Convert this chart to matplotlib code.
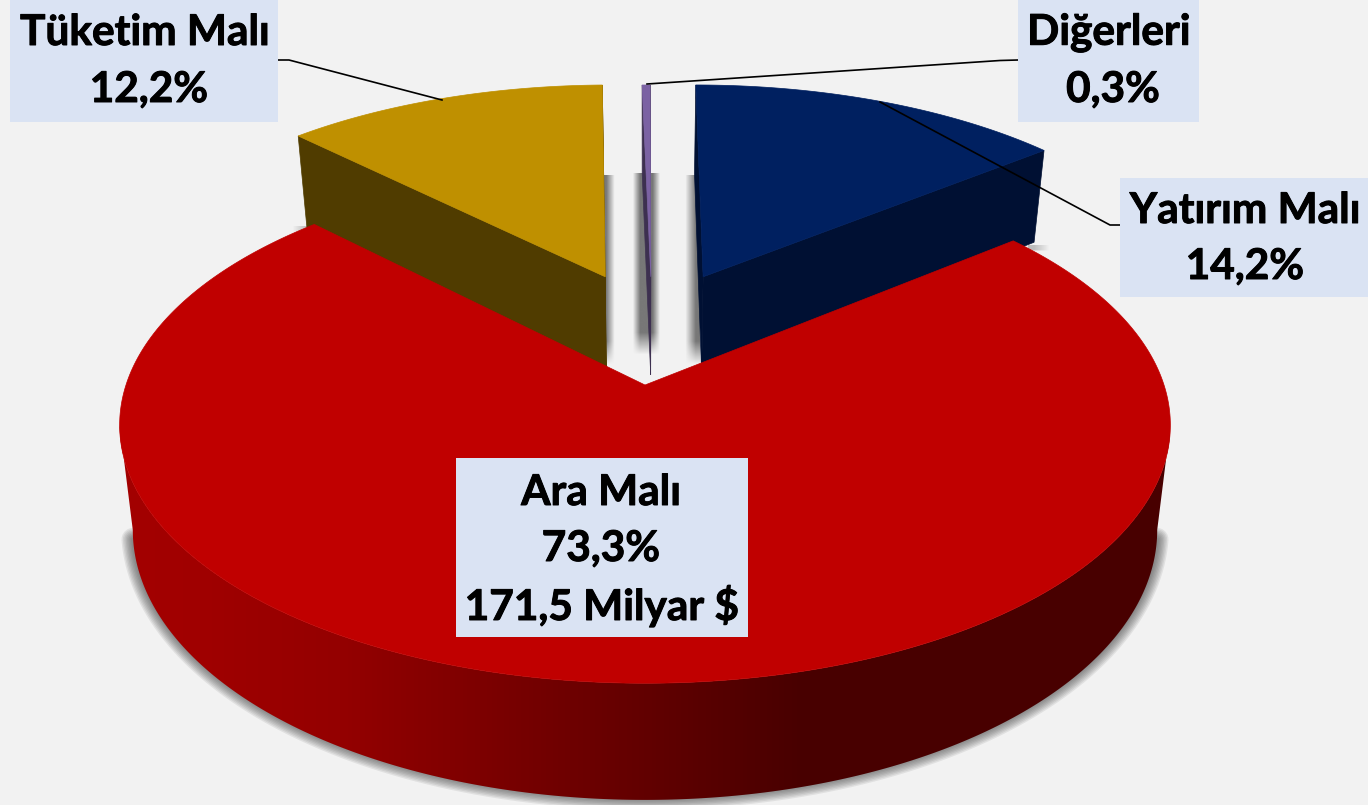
import numpy as np
import matplotlib
matplotlib.use("Agg")
import matplotlib.pyplot as plt
import matplotlib.patheffects as pe
from matplotlib.colors import LinearSegmentedColormap
from matplotlib.patches import Polygon

categories = ["Yatırım Malı", "Ara Malı", "Tüketim Malı", "Diğerleri"]
shares = [14.2, 73.3, 12.2, 0.3]
share_labels = ["14,2%", "73,3%", "12,2%", "0,3%"]
total_label = "171,5 Milyar $"

top_colors = ["#002060", "#c00000", "#bf9000", "#7b62a3"]
wall_colors = ["#001033", "#700000", "#503c00", "#3d3050"]
explode_x = [0.12, 0.0, -0.082, 0.012]
explode_y = [-0.46, 0.0, -0.46, -0.46]

BG = "#f2f2f2"
BOX = "#dae3f3"
CX, CY = 645, 385
RX, RY = 519, 252
PERSP = 0.155
BOTTOM_SHRINK = 0.975

plt.rcParams["font.family"] = ["Lato", "DejaVu Sans"]


def project(x, y):
    s = 1 / (1 - PERSP * y)
    top_x = CX + RX * x * s
    top_y = CY + RY * y * s
    bot_x = CX + (top_x - CX) * BOTTOM_SHRINK
    bot_y = top_y + 103 * s ** 0.74
    return top_x, top_y, bot_x, bot_y


def rim(start, end, ox, oy, n=240):
    t = np.radians(np.linspace(start, end, n))
    return project(ox + np.sin(t), oy - np.cos(t))


def soft_shadow(ax, x0, x1, y0, y1, fade, peak=0.8):
    # small alpha image, bilinear scaling does the blur
    across = {"right": np.r_[np.ones(4), np.linspace(1, 0, 12)],
              "left": np.r_[np.linspace(0, 1, 12), np.ones(4)],
              "both": np.r_[np.linspace(0, 1, 5), np.ones(6), np.linspace(1, 0, 5)]}[fade]
    along = np.r_[np.ones(14), np.linspace(1, 0, 3)]
    rgba = np.zeros((len(along), len(across), 4))
    rgba[..., :3] = 0.35
    rgba[..., 3] = peak * np.outer(along, across)
    ax.imshow(rgba, extent=(x0, x1, y1, y0), aspect="auto", interpolation="bilinear", zorder=1)


fig = plt.figure(figsize=(13.68, 8.05), dpi=100, facecolor=BG)
ax = fig.add_axes([0, 0, 1, 1])

soft_shadow(ax, 603, 615, 176, 370, "right")
soft_shadow(ax, 632, 661, 174, 360, "both")
soft_shadow(ax, 685, 700, 176, 370, "left")
soft_shadow(ax, 1028, 1050, 245, 251, "right", peak=0.35)
soft_shadow(ax, 292, 312, 226, 232, "left", peak=0.35)

# the three pulled-out slices, then the big one in front
bounds = np.cumsum([0] + shares) * 3.6
for i in [2, 0, 3]:
    start, end = bounds[i], bounds[i + 1]
    ox, oy = explode_x[i], explode_y[i]
    tx, ty, bx, by = rim(start, end, ox, oy)
    atx, aty, abx, aby = project(ox, oy)
    ax.fill([atx, tx[0], bx[0], abx], [aty, ty[0], by[0], aby], color=wall_colors[i], lw=0.5, zorder=2)
    ax.fill([atx, tx[-1], bx[-1], abx], [aty, ty[-1], by[-1], aby], color=wall_colors[i], lw=0.5, zorder=2)
    ax.fill(np.r_[atx, tx], np.r_[aty, ty], color=top_colors[i], lw=0.5, zorder=3)

start, end = bounds[1], bounds[2]
tx, ty, _, _ = rim(start, end, explode_x[1], explode_y[1], n=500)
atx, aty, _, _ = project(explode_x[1], explode_y[1])

# rim ribbon only between the two silhouette points, further round it folds over itself
edge = np.degrees(np.arccos(-PERSP))
wx, wy, bx, by = rim(edge, 360 - edge, explode_x[1], explode_y[1], n=400)

# drop shadow under the rim
for lw in [17, 15, 13, 11, 9, 7, 5, 3]:
    ax.plot(bx[6:-6], by[6:-6] - 2, color="#303030", lw=lw, alpha=0.09,
            solid_capstyle="round", zorder=3.5)

# rim shading runs left to right
xs = np.array([118, 190, 340, 557, 800, 1170])
reds = [(0.64, 0, 0), (0.63, 0, 0), (0.58, 0, 0), (0.44, 0, 0), (0.285, 0, 0), (0.285, 0, 0)]
rim_cmap = LinearSegmentedColormap.from_list("rim", list(zip((xs - xs[0]) / (xs[-1] - xs[0]), reds)))
wall = Polygon(np.c_[np.r_[wx, bx[::-1]], np.r_[wy, by[::-1]]], closed=True, transform=ax.transData,
               facecolor="none", edgecolor="none")
ax.add_patch(wall)
grad = ax.imshow(np.linspace(0, 1, 512)[None, :], extent=(xs[0], xs[-1], 805, 0), aspect="auto",
                 cmap=rim_cmap, zorder=4)
grad.set_clip_path(wall)
ax.fill(np.r_[atx, tx], np.r_[aty, ty], color=top_colors[1], lw=0.5, zorder=5)

# leader lines
ax.plot([278, 289, 442], [60, 60, 100], color="black", lw=1.2, zorder=6)
ax.plot([1018, 1000, 647], [60, 60.5, 84], color="black", lw=1.2, zorder=6)
ax.plot([1120, 1110, 880], [225, 225, 102], color="black", lw=1.2, zorder=6)

# label boxes
boxes = {0: (1120, 178, 248, 119), 1: (456, 458, 292, 179), 2: (10, 0, 268, 122), 3: (1018, 0, 181, 122)}
for i, (x, y, w, h) in boxes.items():
    ax.add_patch(plt.Rectangle((x, y), w, h, facecolor=BOX, edgecolor="none", zorder=7))

FS = 30.5
heavy = [pe.withStroke(linewidth=0.7, foreground="black")]


def label(x, y, s):
    ax.text(x, y, s, fontsize=FS, fontweight="bold", ha="center", va="center", zorder=8, path_effects=heavy)


label(145, 33, categories[2])
label(149, 90, share_labels[2])
label(1109, 33, categories[3])
label(1113, 90, share_labels[3])
label(1245, 211, categories[0])
label(1245, 267, share_labels[0])
label(601, 493, categories[1])
label(601, 549, share_labels[1])
label(602, 606, total_label)

ax.set_xlim(0, 1368)
ax.set_ylim(805, 0)
ax.axis("off")

fig.savefig("out.png", dpi=100, facecolor=BG)
